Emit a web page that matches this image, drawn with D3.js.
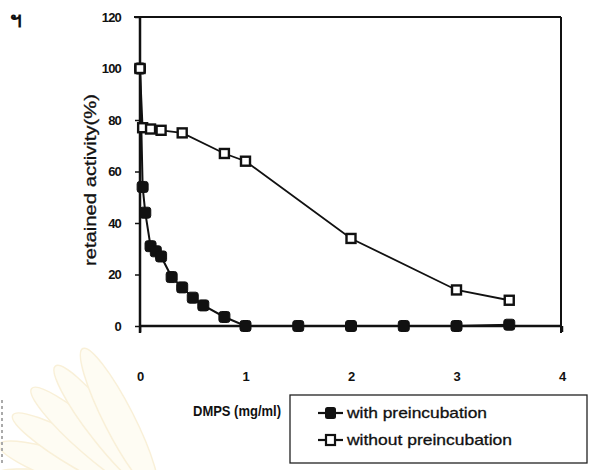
<!DOCTYPE html>
<html>
<head>
<meta charset="utf-8">
<script src="https://cdn.jsdelivr.net/npm/d3@7"></script>
<style>
  html, body { margin: 0; padding: 0; background: #fff; }
  svg { display: block; }
  text { font-family: "Liberation Sans", Arial, sans-serif; fill: #111; }
</style>
</head>
<body>
<svg id="chart" width="593" height="470"></svg>
<script>
// DMPS concentration (mg/ml) and retained activity (%)
const xWith = [0, 0.025, 0.05, 0.1, 0.15, 0.2, 0.3, 0.4, 0.5, 0.6, 0.8, 1, 1.5, 2, 2.5, 3, 3.5];
const yWith = [100, 54, 44, 31, 29, 27, 19, 15, 11, 8, 3.5, 0, 0, 0, 0, 0, 0.5];
const xWithout = [0, 0.025, 0.1, 0.2, 0.4, 0.8, 1, 2, 3, 3.5];
const yWithout = [100, 77, 76.5, 76, 75, 67, 64, 34, 14, 10];
const xTicks = [0, 1, 2, 3, 4];
const yTicks = [0, 20, 40, 60, 80, 100, 120];
const seriesNames = ["with preincubation", "without preincubation"];

const svg = d3.select("#chart");

// faint fan-shaped emblem in the lower-left corner
const fan = svg.append("g").attr("transform", "translate(160,500)");
d3.range(6).forEach(i => {
  fan.append("ellipse")
    .attr("cx", -90).attr("cy", 0).attr("rx", 80).attr("ry", 15)
    .attr("transform", `rotate(${8 + i * 11})`)
    .attr("fill", "#fefcf3").attr("stroke", "#f9f0d8").attr("stroke-width", 1.5);
});
svg.append("line").attr("x1", 2).attr("x2", 2).attr("y1", 400).attr("y2", 466)
  .attr("stroke", "#aaa").attr("stroke-width", 2).attr("stroke-dasharray", "3,3");

const x = d3.scaleLinear().domain([0, 4]).range([140, 562]);
const y = d3.scaleLinear().domain([0, 120]).range([326, 17]);

// plot frame: top and right borders
svg.append("line").attr("x1", 134).attr("x2", x(4) - 1).attr("y1", y(120)).attr("y2", y(120))
  .attr("stroke", "#111").attr("stroke-width", 2);
svg.append("line").attr("x1", x(4) - 1).attr("x2", x(4) - 1).attr("y1", y(120)).attr("y2", 333)
  .attr("stroke", "#111").attr("stroke-width", 2);

// y axis
const yAxis = svg.append("g").attr("transform", `translate(${x(0)},0)`)
  .call(d3.axisLeft(y).tickValues(yTicks).tickSize(5).tickPadding(14).tickFormat(d3.format("d")));
yAxis.select(".domain").attr("d", `M0,${y(120)}V333`).attr("stroke", "#111").attr("stroke-width", 2.5);
yAxis.selectAll(".tick line").attr("stroke", "#111").attr("stroke-width", 1.5);
yAxis.selectAll("text").attr("font-size", 13).attr("font-weight", "bold")
  .attr("letter-spacing", -0.8).style("font-family", '"Liberation Sans", sans-serif');

// x axis along the zero line, labels set well below it
const xAxis = svg.append("g").attr("transform", `translate(0,${y(0)})`)
  .call(d3.axisBottom(x).tickValues(xTicks).tickSize(6).tickPadding(40).tickFormat(d3.format("d")));
xAxis.select(".domain").attr("d", `M${x(0)},0H${x(4) - 1}`).attr("stroke", "#111").attr("stroke-width", 2.5);
xAxis.selectAll(".tick line").attr("stroke", "#111").attr("stroke-width", 1.5);
xAxis.selectAll("text").attr("font-size", 13).attr("font-weight", "bold")
  .style("font-family", '"Liberation Sans", sans-serif');

// axis titles
svg.append("text")
  .attr("transform", "translate(96,180) rotate(-90)")
  .attr("text-anchor", "middle").attr("font-size", 16)
  .attr("textLength", 172).attr("lengthAdjust", "spacingAndGlyphs")
  .attr("stroke", "#111").attr("stroke-width", 0.3)
  .text("retained activity(%)");
svg.append("text")
  .attr("x", 237).attr("y", 416).attr("text-anchor", "middle").attr("font-size", 15)
  .attr("font-weight", "bold").attr("textLength", 88).attr("lengthAdjust", "spacingAndGlyphs")
  .text("DMPS (mg/ml)");

const line = d3.line().x(d => x(d[0])).y(d => y(d[1]));
const dataWith = xWith.map((v, i) => [v, yWith[i]]);
const dataWithout = xWithout.map((v, i) => [v, yWithout[i]]);

// series lines
svg.append("path").datum(dataWith).attr("d", line)
  .attr("fill", "none").attr("stroke", "#111").attr("stroke-width", 2);
svg.append("path").datum(dataWithout).attr("d", line)
  .attr("fill", "none").attr("stroke", "#111").attr("stroke-width", 1.8);

const ms = 11;
// filled markers
svg.append("g").selectAll("rect").data(dataWith).join("rect")
  .attr("x", d => x(d[0]) - ms / 2).attr("y", d => y(d[1]) - ms / 2)
  .attr("width", ms).attr("height", ms).attr("rx", 2.5)
  .attr("fill", "#111").attr("stroke", "#111").attr("stroke-width", 1);
// open markers
svg.append("g").selectAll("rect").data(dataWithout).join("rect")
  .attr("x", d => x(d[0]) - ms / 2 + 1).attr("y", d => y(d[1]) - ms / 2 + 1)
  .attr("width", ms - 2).attr("height", ms - 2)
  .attr("fill", "#fff").attr("stroke", "#111").attr("stroke-width", 2.4);

// legend
const lg = svg.append("g").attr("transform", "translate(290,395)");
lg.append("rect").attr("x", 0).attr("y", 0).attr("width", 297).attr("height", 68)
  .attr("fill", "none").attr("stroke", "#222").attr("stroke-width", 1.3);
seriesNames.forEach((name, i) => {
  const cy = 18 + i * 27;
  lg.append("line").attr("x1", 28).attr("x2", 53).attr("y1", cy).attr("y2", cy)
    .attr("stroke", "#111").attr("stroke-width", 2.2);
  if (i === 0) {
    lg.append("rect").attr("x", 35).attr("y", cy - 6).attr("width", 11).attr("height", 12)
      .attr("rx", 2.5).attr("fill", "#111");
  } else {
    lg.append("rect").attr("x", 36).attr("y", cy - 5).attr("width", 9).attr("height", 10)
      .attr("fill", "#fff").attr("stroke", "#111").attr("stroke-width", 2.2);
  }
  lg.append("text").attr("x", 57).attr("y", cy + 5).attr("font-size", 15)
    .attr("textLength", i === 0 ? 140 : 165).attr("lengthAdjust", "spacingAndGlyphs")
    .attr("stroke", "#111").attr("stroke-width", 0.3)
    .text(name);
});

// page mark in the corner
svg.append("text").attr("x", 10).attr("y", 27).attr("font-size", 21).attr("font-weight", "bold")
  .style("font-family", '"Noto Sans", "DejaVu Sans", sans-serif').text("ฯ");
</script>
</body>
</html>
